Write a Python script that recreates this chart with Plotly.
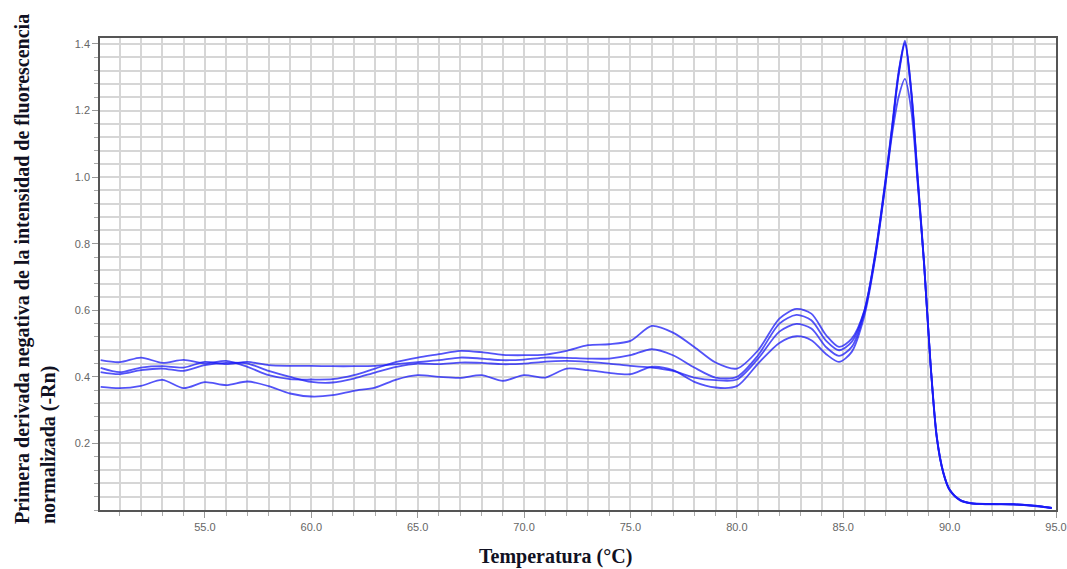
import plotly.graph_objects as go

# Temperatures (°C) shared by all curves
temps = [50.1, 51, 52, 53, 54, 55, 56, 57, 58, 59, 60, 61, 62, 63, 64, 65, 66, 67, 68, 69,
         70, 71, 72, 73, 74, 75, 76, 77, 78, 79, 80, 81, 82, 82.8, 83.5, 84.2, 84.8, 85.4,
         86.0, 86.5, 87.0, 87.3, 87.6, 87.9, 88.2, 88.5, 88.8, 89.1, 89.4, 89.7, 90.0,
         90.5, 91.0, 92.0, 93.0, 94.0, 94.8]

# -dF/dT (normalised) for each sample
curve_a = [0.450, 0.444, 0.458, 0.442, 0.451, 0.440, 0.448, 0.430, 0.405, 0.393, 0.392, 0.393,
           0.405, 0.425, 0.445, 0.458, 0.468, 0.478, 0.474, 0.466, 0.465, 0.467, 0.478, 0.495,
           0.498, 0.508, 0.553, 0.533, 0.490, 0.443, 0.425, 0.480, 0.575, 0.604, 0.590, 0.525,
           0.490, 0.515, 0.600, 0.765, 0.995, 1.150, 1.310, 1.410, 1.260, 1.000, 0.744, 0.445,
           0.220, 0.115, 0.062, 0.030, 0.020, 0.018, 0.017, 0.013, 0.006]
curve_b = [0.427, 0.414, 0.428, 0.432, 0.428, 0.445, 0.438, 0.445, 0.435, 0.433, 0.433, 0.432,
           0.432, 0.433, 0.438, 0.444, 0.450, 0.458, 0.455, 0.450, 0.452, 0.458, 0.457, 0.455,
           0.455, 0.465, 0.483, 0.465, 0.428, 0.398, 0.400, 0.465, 0.560, 0.586, 0.570, 0.508,
           0.480, 0.505, 0.600, 0.768, 1.000, 1.155, 1.315, 1.405, 1.255, 0.995, 0.740, 0.440,
           0.215, 0.112, 0.060, 0.029, 0.021, 0.017, 0.018, 0.012, 0.006]
curve_c = [0.414, 0.408, 0.420, 0.425, 0.418, 0.435, 0.442, 0.440, 0.418, 0.400, 0.385, 0.383,
           0.395, 0.413, 0.430, 0.440, 0.438, 0.443, 0.442, 0.438, 0.440, 0.446, 0.448, 0.445,
           0.440, 0.433, 0.428, 0.418, 0.398, 0.390, 0.392, 0.455, 0.536, 0.559, 0.545, 0.489,
           0.463, 0.490, 0.595, 0.762, 0.990, 1.145, 1.305, 1.400, 1.250, 0.990, 0.738, 0.442,
           0.218, 0.113, 0.061, 0.030, 0.020, 0.018, 0.016, 0.013, 0.006]
curve_d = [0.370, 0.366, 0.373, 0.391, 0.366, 0.384, 0.375, 0.386, 0.372, 0.350, 0.341, 0.345,
           0.358, 0.368, 0.392, 0.405, 0.400, 0.397, 0.405, 0.388, 0.405, 0.398, 0.425, 0.420,
           0.412, 0.408, 0.430, 0.420, 0.385, 0.368, 0.372, 0.440, 0.502, 0.522, 0.510, 0.468,
           0.445, 0.475, 0.585, 0.755, 0.985, 1.130, 1.240, 1.295, 1.200, 0.980, 0.740, 0.440,
           0.215, 0.112, 0.060, 0.029, 0.020, 0.018, 0.017, 0.012, 0.006]

curves = [curve_a, curve_b, curve_c, curve_d]

x_ticks = [55, 60, 65, 70, 75, 80, 85, 90, 95]
y_ticks = [0.2, 0.4, 0.6, 0.8, 1.0, 1.2, 1.4]

fig = go.Figure()
for vals in curves:
    fig.add_trace(go.Scatter(x=temps, y=vals, mode="lines",
                             line=dict(color="rgba(25,25,245,0.75)", width=1.8, shape="spline",
                                       smoothing=0.8),
                             hoverinfo="skip", showlegend=False))

grid_col = "#d6d6d6"
tick_font = dict(family="Liberation Sans, Arial, sans-serif", size=11, color="#666666")

fig.update_layout(
    width=1067, height=569,
    margin=dict(l=100, r=11, t=38, b=59, autoexpand=False),
    paper_bgcolor="white", plot_bgcolor="white",
    showlegend=False,
    xaxis=dict(range=[50.07, 95.0], tickmode="array", tickvals=x_ticks,
               ticktext=[f"{v:.1f}" for v in x_ticks], tickfont=tick_font,
               automargin=False,
               showgrid=True, gridcolor=grid_col, gridwidth=1.5,
               ticks="outside", ticklen=6, tickcolor="#999999", tickwidth=1,
               showline=True, linecolor="#555555", linewidth=1.5, mirror=True,
               zeroline=False,
               minor=dict(tick0=0, dtick=1, showgrid=True, gridcolor=grid_col, gridwidth=1.5,
                          ticks="outside", ticklen=4, tickcolor="#aaaaaa")),
    yaxis=dict(range=[0, 1.418], tickmode="array", tickvals=y_ticks,
               ticktext=[f"{v:.1f}" for v in y_ticks], tickfont=tick_font,
               automargin=False,
               showgrid=True, gridcolor=grid_col, gridwidth=1.5,
               ticks="outside", ticklen=6, tickcolor="#999999", tickwidth=1,
               showline=True, linecolor="#555555", linewidth=1.5, mirror=True,
               zeroline=False,
               minor=dict(tick0=0, dtick=0.04, showgrid=True, gridcolor=grid_col, gridwidth=1.5,
                          ticks="outside", ticklen=4, tickcolor="#aaaaaa")),
)

title_font = dict(family="Liberation Serif, Times New Roman, serif", size=20, color="#111122")
fig.add_annotation(text="<b>Primera derivada negativa de la intensidad de fluorescencia</b>",
                   xref="paper", yref="paper", x=0, y=0, xanchor="center", yanchor="bottom",
                   xshift=-78, yshift=-16, textangle=-90, showarrow=False, font=title_font)
fig.add_annotation(text="<b>normalizada (-Rn)</b>",
                   xref="paper", yref="paper", x=0, y=0, xanchor="center", yanchor="bottom",
                   xshift=-52, yshift=-16, textangle=-90, showarrow=False, font=title_font)
fig.add_annotation(text="<b>Temperatura (°C)</b>",
                   xref="paper", yref="paper", x=(555 - 100) / 956, y=0,
                   xanchor="center", yanchor="middle", yshift=-46,
                   showarrow=False, font=title_font)

fig.write_html("out.html", config={"displayModeBar": False},
               post_script="document.body.style.margin='0px';")
